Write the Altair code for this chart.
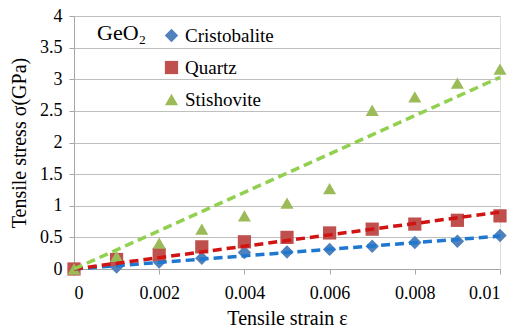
import altair as alt
import pandas as pd

strain = [0, 0.001, 0.002, 0.003, 0.004, 0.005, 0.006, 0.007, 0.008, 0.009, 0.01]
cristobalite = [0, 0.03, 0.11, 0.17, 0.26, 0.27, 0.31, 0.36, 0.42, 0.44, 0.53]
quartz = [0, 0.15, 0.23, 0.35, 0.43, 0.50, 0.57, 0.63, 0.71, 0.77, 0.84]
stishovite = [0, 0.20, 0.41, 0.63, 0.84, 1.04, 1.27, 2.51, 2.72, 2.94, 3.16]

series = ["Cristobalite", "Quartz", "Stishovite"]
marker_colors = ["#4F81BD", "#C0504D", "#9BBB59"]
marker_shapes = ["diamond", "square", "triangle-up"]
marker_sizes = [180, 170, 230]
trend_colors = ["#1F78D0", "#D01414", "#92D050"]
trend_x = [0, 0.01]
trend_end = {"Cristobalite": 0.52, "Quartz": 0.90, "Stishovite": 3.03}
x_ticks = [0, 0.002, 0.004, 0.006, 0.008, 0.01]
y_ticks = [0, 0.5, 1, 1.5, 2, 2.5, 3, 3.5, 4]

FONT = "Liberation Serif"

rows = []
for name, vals in zip(series, [cristobalite, quartz, stishovite]):
    for x, y in zip(strain, vals):
        rows.append({"series": name, "strain": x, "stress": y})
df = pd.DataFrame(rows)

trows = []
for name in series:
    trows.append({"series": name, "strain": trend_x[0], "stress": 0.0})
    trows.append({"series": name, "strain": trend_x[1], "stress": trend_end[name]})
tdf = pd.DataFrame(trows)

common_axis = dict(
    labelFont=FONT, labelFontSize=18, labelColor="black", labelOverlap=False,
    titleFont=FONT, titleFontSize=20, titleFontWeight="normal", titleColor="black",
    domainColor="#A6A6A6", tickColor="#A6A6A6", tickSize=5,
    gridColor="#BFBFBF", gridWidth=1,
)

xenc = alt.X("strain:Q", scale=alt.Scale(domain=[0, 0.01], nice=False),
             axis=alt.Axis(values=x_ticks, format="~g", title="Tensile strain ε",
                           grid=False, labelPadding=10, titlePadding=6, **common_axis))
yenc = alt.Y("stress:Q", scale=alt.Scale(domain=[0, 4], nice=False),
             axis=alt.Axis(values=y_ticks, format="~g", title="Tensile stress σ(GPa)",
                           grid=True, labelPadding=7, titlePadding=10, **common_axis))

legend = alt.Legend(
    title="GeO₂", orient="none", legendX=23, legendY=10,
    titleOrient="left", titleAnchor="start", titleBaseline="line-top", titleLineHeight=16,
    titleFont=FONT, titleFontSize=22,
    titleFontWeight="normal", titleColor="black", titlePadding=15,
    labelFont=FONT, labelFontSize=19, labelColor="black", labelOffset=4,
    rowPadding=12, symbolSize=50, symbolStrokeWidth=0,
)

points = alt.Chart(df).mark_point(filled=True, opacity=1).encode(
    x=xenc, y=yenc,
    color=alt.Color("series:N", scale=alt.Scale(domain=series, range=marker_colors), legend=legend),
    shape=alt.Shape("series:N", scale=alt.Scale(domain=series, range=marker_shapes), legend=legend),
    size=alt.Size("series:N", scale=alt.Scale(domain=series, range=marker_sizes), legend=None),
)

lines = alt.Chart(tdf).mark_line(strokeDash=[9, 5], strokeWidth=3.5).encode(
    x=xenc, y=yenc,
    stroke=alt.Stroke("series:N", scale=alt.Scale(domain=series, range=trend_colors), legend=None),
    detail="series:N",
)

chart = alt.layer(points, lines).properties(
    width=426, height=253,
    autosize=alt.AutoSizeParams(type="none"),
    padding={"left": 74, "top": 16, "right": 15, "bottom": 63},
    background="white",
).configure_view(stroke=None).configure(font=FONT)

chart.save("out.html", embed_options={"renderer": "svg", "actions": False})
